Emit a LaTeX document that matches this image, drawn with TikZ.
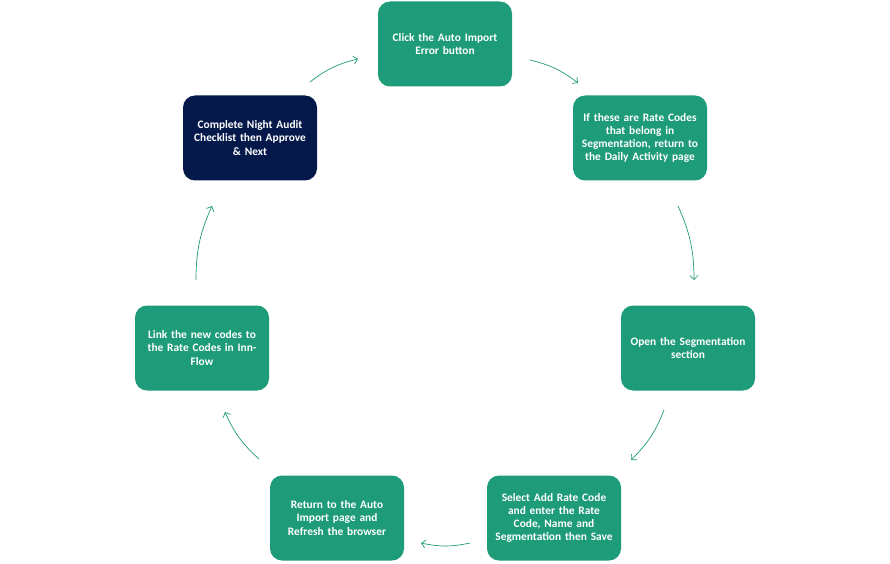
\documentclass[tikz,border=0pt]{standalone}
\usepackage{fontspec}
\setmainfont{Carlito}
\usepackage{xcolor}
\usepackage{tikz}
\usetikzlibrary{arrows.meta}

\definecolor{stepgreen}{RGB}{30,155,120}
\definecolor{stepnavy}{RGB}{5,24,74}

\begin{document}
\begin{tikzpicture}[x=1pt,y=1pt,
		taskbox/.style={fill=stepgreen,text=white,rounded corners=12pt,minimum width=134pt,minimum height=85pt,
			text width=130pt,align=center,inner sep=0pt,font=\fontsize{11.4}{13.2}\selectfont\bfseries},
		cyclearrow/.style={draw=stepgreen,line width=0.7pt,-{Straight Barb[length=4pt,width=8pt]},bend left=12}]
			\useasboundingbox (0,0) rectangle (890,563);
			% the seven steps, clockwise from the top
			\node[taskbox] (click) at (445,519) {Click the Auto Import\\Error button};
			\node[taskbox] (ratecodes) at (640,425) {If these are Rate Codes\\that belong in\\Segmentation, return to\\the Daily Activity page};
			\node[taskbox] (opensegm) at (688,215) {Open the Segmentation\\section};
			\node[taskbox] (addcode) at (554,45) {Select Add Rate Code\\and enter the Rate\\Code, Name and\\Segmentation then Save};
			\node[taskbox] (refresh) at (337,45) {Return to the Auto\\Import page and\\Refresh the browser};
			\node[taskbox] (link) at (202,215) {Link the new codes to\\the Rate Codes in Inn-\\Flow};
			\node[taskbox,fill=stepnavy] (audit) at (250,425) {Complete Night Audit\\Checklist then Approve\\\& Next};
			% arrow ends
			\coordinate (a1s) at (530,503); \coordinate (a1e) at (578,480);
			\coordinate (a2s) at (678,357); \coordinate (a2e) at (694,283);
			\coordinate (a3s) at (664,153); \coordinate (a3e) at (631,103);
			\coordinate (a4s) at (470,20);  \coordinate (a4e) at (421,20);
			\coordinate (a5s) at (259,104); \coordinate (a5e) at (225,151);
			\coordinate (a6s) at (196,283); \coordinate (a6e) at (212,357);
			\coordinate (a7s) at (310,481); \coordinate (a7e) at (358,504);
			\foreach \i in {1,...,7}
				\draw[cyclearrow] (a\i s) to (a\i e);
\end{tikzpicture}
\end{document}
